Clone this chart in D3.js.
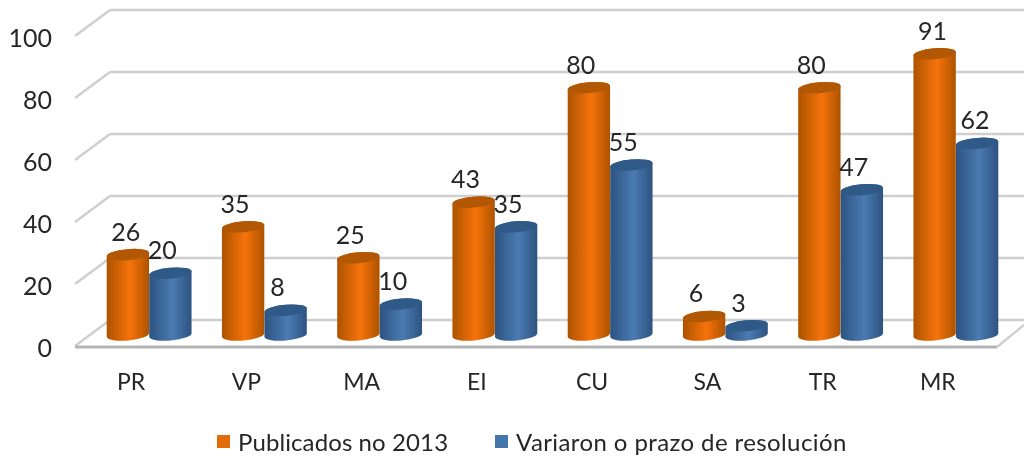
<!DOCTYPE html>
<html>
<head>
<meta charset="utf-8">
<script src="https://cdn.jsdelivr.net/npm/d3@7"></script>
<style>
    html, body { margin: 0; background: #fff; }
    text { font-family: Lato, sans-serif; fill: #262626; }
    svg { filter: blur(0.45px); }
</style>
</head>
<body>
<script>
const categories = ["PR", "VP", "MA", "EI", "CU", "SA", "TR", "MR"];
const seriesNames = ["Publicados no 2013", "Variaron o prazo de resolución"];
const publicados = [26, 35, 25, 43, 80, 6, 80, 91];
const variaron = [20, 8, 10, 35, 55, 3, 47, 62];
const yTicks = [0, 20, 40, 60, 80, 100];

const width = 1024, height = 457;
const svg = d3.create("svg").attr("width", width).attr("height", height).style("display", "block");

// three y scales: front edge of the floor, back wall, and the bars in between
const yFront = d3.scaleLinear().domain([0, 100]).range([346, 36]);
const yBack = d3.scaleLinear().domain([0, 100]).range([320, 10]);
const yBar = d3.scaleLinear().domain([0, 100]).range([335, 26]);

const x0 = d3.scaleBand().domain(categories).range([91.5, 1013.5]);
const x1 = d3.scaleBand().domain([0, 1]).range([0, 85]);

const wallLeft = 110, frontLeft = 75, frontRight = 997;
const defs = svg.append("defs");

function addGradient(id, edge, mid) {
    const g = defs.append("linearGradient").attr("id", id);
    g.append("stop").attr("offset", "0%").attr("stop-color", edge);
    g.append("stop").attr("offset", "55%").attr("stop-color", mid);
    g.append("stop").attr("offset", "100%").attr("stop-color", edge);
}
addGradient("grad0", "#ad5300", "#f6730a");
addGradient("grad1", "#2d5380", "#4a7bb2");
const topColors = ["#b25805", "#2f5987"];
const legendColors = ["#e36c09", "#4475ab"];

// walls and floor
const grid = svg.append("g").attr("fill", "none").attr("stroke", "#cfcfcf").attr("stroke-width", 2.5);
grid.selectAll(".wall").data(yTicks).enter().append("line")
    .attr("x1", wallLeft).attr("x2", width)
    .attr("y1", d => yBack(d)).attr("y2", d => yBack(d));
grid.selectAll(".side").data(yTicks).enter().append("line")
    .attr("x1", frontLeft).attr("x2", wallLeft)
    .attr("y1", d => yFront(d)).attr("y2", d => yBack(d));
grid.append("line").attr("x1", frontRight).attr("y1", yFront(0) + 1).attr("x2", width).attr("y2", 325);
svg.append("line").attr("x1", frontLeft).attr("x2", frontRight)
    .attr("y1", yFront(0) + 1).attr("y2", yFront(0) + 1)
    .attr("stroke", "#b4b4b4").attr("stroke-width", 3);

// y axis
const yAxis = d3.axisLeft(yFront).tickValues(yTicks).tickSize(0).tickPadding(0);
const yG = svg.append("g").attr("transform", "translate(52,2)").call(yAxis);
yG.select(".domain").remove();
yG.selectAll("text").style("font-size", "25px").style("font-family", "Lato, sans-serif").attr("fill", "#262626");

// x axis
const xAxis = d3.axisBottom(x0).tickSize(0).tickPadding(0);
const xG = svg.append("g").attr("transform", "translate(-18,374)").call(xAxis);
xG.select(".domain").remove();
xG.selectAll("text").style("font-size", "23px").style("font-family", "Lato, sans-serif").attr("fill", "#262626");

// cylinders
const ry = 5.5, tilt = -5;
const dxT = Math.cos(tilt * Math.PI / 180), dyT = Math.sin(tilt * Math.PI / 180);

function bodyPath(cx, yTop, yBase, rx) {
    const a = `${rx} ${ry} ${tilt}`;
    return `M${cx - rx * dxT},${yTop - rx * dyT}` +
        `L${cx - rx * dxT},${yBase - rx * dyT}` +
        `A${a} 0 0 ${cx + rx * dxT},${yBase + rx * dyT}` +
        `L${cx + rx * dxT},${yTop + rx * dyT}` +
        `A${a} 0 0 ${cx - rx * dxT},${yTop - rx * dyT}Z`;
}

// a few value labels sit further right than the rest
const labelShift = (s, i) => (i === 7 || (s === 0 && i === 0)) ? -2 : -8;

[publicados, variaron].forEach((values, s) => {
    const rx = x1.bandwidth() / 2;
    const cxOf = (d, i) => x0(categories[i]) + x0.bandwidth() / 2 - x1.bandwidth() + x1(s) + rx;
    const bars = svg.append("g").attr("class", "series" + s);
    bars.selectAll("path.body").data(values).enter().append("path")
        .attr("class", "body")
        .attr("fill", `url(#grad${s})`)
        .attr("d", (d, i) => bodyPath(cxOf(d, i), yBar(d), yBar(0), rx));
    bars.selectAll("ellipse").data(values).enter().append("ellipse")
        .attr("rx", rx).attr("ry", ry)
        .attr("fill", topColors[s])
        .attr("transform", (d, i) => `translate(${cxOf(d, i)},${yBar(d)}) rotate(${tilt})`);
    bars.selectAll("text").data(values).enter().append("text")
        .attr("x", (d, i) => cxOf(d, i) + labelShift(s, i))
        .attr("y", d => yBar(d) - 14)
        .attr("text-anchor", "middle")
        .style("font-size", "25px")
        .text(d => d);
});

// legend
const legendX = [217, 495];
const legend = svg.selectAll(".legend").data(seriesNames).enter().append("g")
    .attr("class", "legend")
    .attr("transform", (d, i) => `translate(${legendX[i]},443)`);
legend.append("rect").attr("y", -8).attr("width", 13).attr("height", 13)
    .attr("fill", (d, i) => legendColors[i]);
legend.append("text").attr("x", 21).attr("y", 8)
    .style("font-size", "24px")
    .style("letter-spacing", (d, i) => i === 0 ? "0.1px" : "0.4px")
    .text(d => d);

document.body.appendChild(svg.node());
</script>
</body>
</html>
